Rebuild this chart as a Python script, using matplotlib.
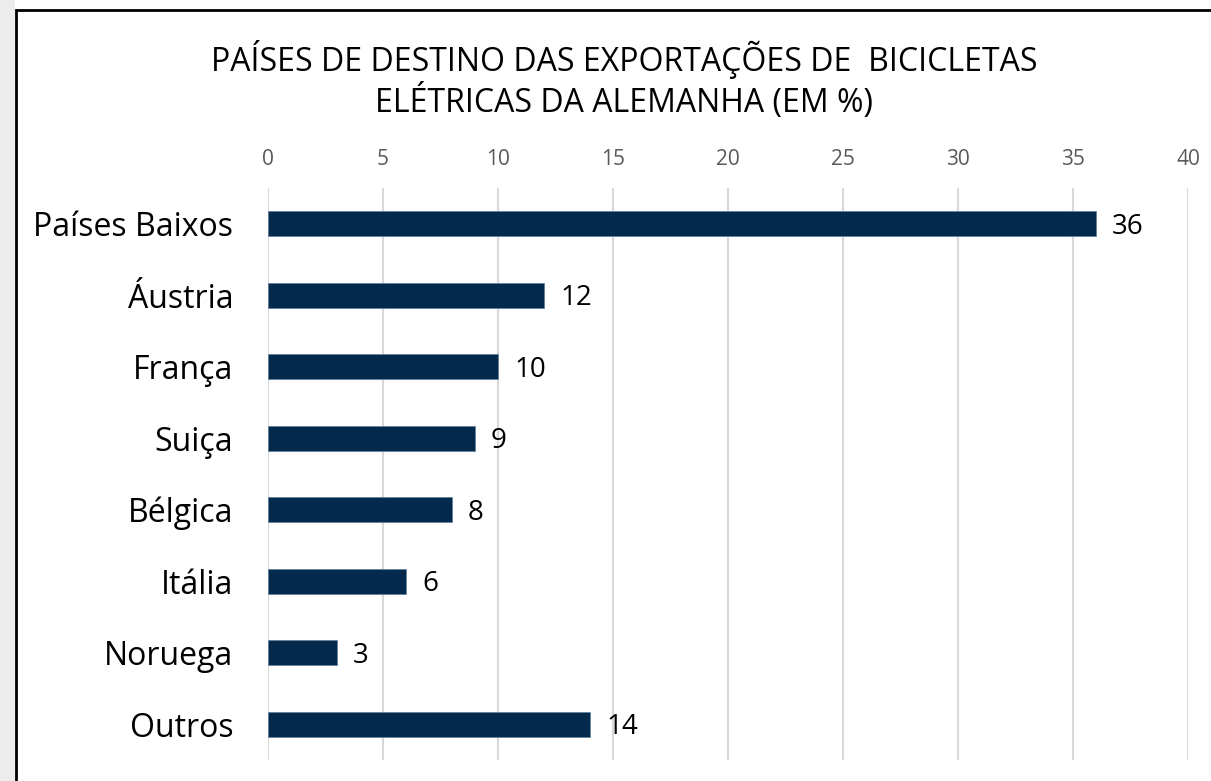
import matplotlib
matplotlib.use('Agg')
import matplotlib.pyplot as plt
from matplotlib.patches import Rectangle

# data
countries = ['Países Baixos', 'Áustria', 'França', 'Suiça', 'Bélgica', 'Itália', 'Noruega', 'Outros']
shares = [36, 12, 10, 9, 8, 6, 3, 14]
x_ticks = [0, 5, 10, 15, 20, 25, 30, 35, 40]
title = 'PAÍSES DE DESTINO DAS EXPORTAÇÕES DE  BICICLETAS\nELÉTRICAS DA ALEMANHA (EM %)'

plt.rcParams['font.family'] = ['Open Sans', 'DejaVu Sans']

W, H = 1211, 781
fig = plt.figure(figsize=(W / 100, H / 100), dpi=100)

# gray strip on the left and the black frame
fig.patches.append(Rectangle((0, 0), 15 / W, 1, transform=fig.transFigure,
                             facecolor='#ececec', edgecolor='none', zorder=0))
fig.patches.append(Rectangle((16 / W, -0.1), 1.2, 1 - 10 / H + 0.1, transform=fig.transFigure,
                             facecolor='white', edgecolor='black', linewidth=2, zorder=1))

ax = fig.add_axes([268 / W, 1 - 760 / H, (1188 - 268) / W, (760 - 188) / H])
ax.set_facecolor('none')
ax.set_zorder(2)

y = list(range(len(countries)))
bars = ax.barh(y, shares, height=0.35, color='#03294d', edgecolor='#5f7f9c', linewidth=0.5, zorder=3)

for bar, v in zip(bars, shares):
    ax.text(bar.get_width() + 0.7, bar.get_y() + bar.get_height() / 2 + 0.04, str(v),
            ha='left', va='center', fontsize=20, color='black')

ax.set_xlim(0, 40)
ax.set_ylim(len(countries) - 0.5, -0.5)
ax.set_xticks(x_ticks)
ax.set_yticks(y)
ax.set_yticklabels(countries, fontsize=23)
ax.xaxis.tick_top()
ax.tick_params(axis='x', length=0, labelsize=15, labelcolor='#595959', pad=13)
ax.tick_params(axis='y', length=0, pad=25)
ax.grid(True, axis='x', color='#d9d9d9', linewidth=1.5, zorder=0)
for s in ax.spines.values():
    s.set_visible(False)

fig.text(624 / W, 1 - 80 / H, title, ha='center', va='center', fontsize=23,
         linespacing=1.15, color='black')

fig.savefig('out.png', dpi=100)
